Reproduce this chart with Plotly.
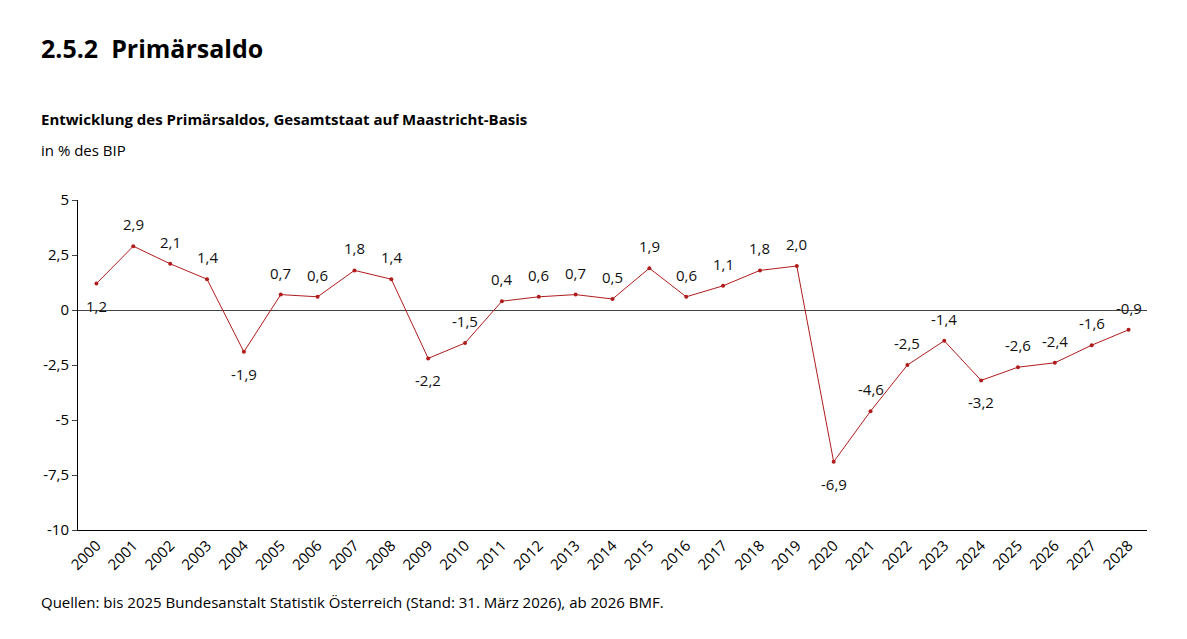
import plotly.graph_objects as go

years = [str(y) for y in range(2000, 2029)]
values = [1.2, 2.9, 2.1, 1.4, -1.9, 0.7, 0.6, 1.8, 1.4, -2.2, -1.5, 0.4, 0.6, 0.7, 0.5,
          1.9, 0.6, 1.1, 1.8, 2.0, -6.9, -4.6, -2.5, -1.4, -3.2, -2.6, -2.4, -1.6, -0.9]
below = {"2000", "2004", "2009", "2020", "2024"}

RED = "#b01c1c"
W, H = 1187, 639
L, R, T, B = 70, 48, 192, 117
FONT = "Open Sans"
idx = list(range(len(years)))


def py(pix):
    # pixel in screenshot -> paper y (page has 8px offset)
    return (H - B - (pix - 8)) / (H - T - B)


fig = go.Figure()
fig.add_trace(go.Scatter(
    x=idx, y=values, mode="lines+markers",
    line=dict(color=RED, width=1),
    marker=dict(color=RED, size=4),
    showlegend=False,
))
for i, (yr, v) in enumerate(zip(years, values)):
    lab = f"{v:.1f}".replace(".", ",")
    fig.add_annotation(x=i, y=v, text=lab, showarrow=False,
                       yshift=-22 if yr in below else 22,
                       font=dict(size=15, color="#111", family=FONT))

for pix, txt, size in [(48, "<b>2.5.2  Primärsaldo</b>", 25),
                       (119, "<b>Entwicklung des Primärsaldos, Gesamtstaat auf Maastricht-Basis</b>", 15),
                       (150, "in % des BIP", 15),
                       (602, "Quellen: bis 2025 Bundesanstalt Statistik Österreich (Stand: 31. März 2026), ab 2026 BMF.", 15)]:
    fig.add_annotation(x=0, xref="paper", y=py(pix), yref="paper", xanchor="left", yanchor="middle",
                       xshift=-L + 31, text=txt, showarrow=False,
                       font=dict(size=size, color="#000", family=FONT))

fig.update_layout(
    width=W, height=H, margin=dict(l=L, r=R, t=T, b=B),
    paper_bgcolor="white", plot_bgcolor="white",
    font=dict(family=FONT, size=15, color="#000"),
)
fig.update_xaxes(range=[-0.5, len(years) - 0.5], tickvals=idx, ticktext=years,
                 tickangle=-45, showline=True, linecolor="#000",
                 ticks="", showgrid=False, zeroline=False, tickfont=dict(size=15))
fig.update_yaxes(range=[-10, 5], tickvals=[5, 2.5, 0, -2.5, -5, -7.5, -10],
                 ticktext=["5", "2,5", "0", "-2,5", "-5", "-7,5", "-10"],
                 showline=True, linecolor="#000", ticks="outside", ticklen=5,
                 showgrid=False, zeroline=True, zerolinecolor="#444", zerolinewidth=1,
                 tickfont=dict(size=15))

fig.write_html("out.html")
